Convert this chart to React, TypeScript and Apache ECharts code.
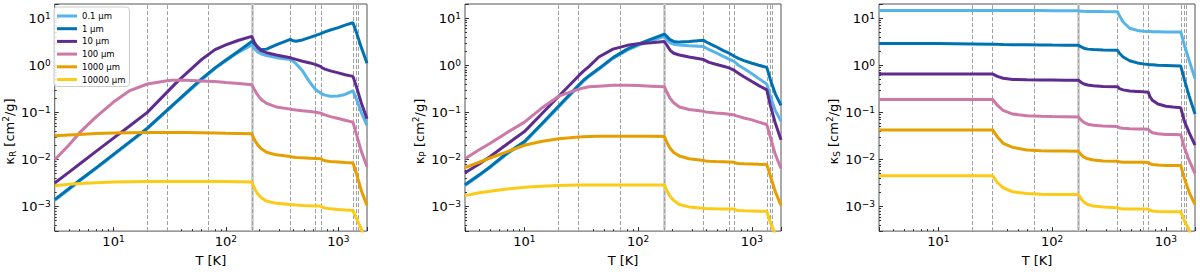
import React, { useEffect, useRef } from "react";
import * as echarts from "echarts";

// Temperature grid [K]
const T = [3, 4, 5, 7, 10, 14, 20, 30, 33, 37, 45, 60, 80, 100, 130, 170, 180, 190, 205, 230, 280, 375, 390, 420, 480, 560, 630, 700, 720, 760, 850, 1000, 1150, 1350, 1450, 1600, 1800];

const sizes = ["0.1 μm", "1 μm", "10 μm", "100 μm", "1000 μm", "10000 μm"];
const colors = ["#56B4E9", "#0072B2", "#5E2C8F", "#CC79A7", "#E69F00", "#FCCB18"];

// Rosseland mean opacities
const kR_01 = [1.36e-3, 2.3e-3, 3.5e-3, 6.4e-3, 0.0124, 0.023, 0.045, 0.108, 0.133, 0.17, 0.26, 0.48, 0.85, 1.24, 1.9, 2.7, 2.25, 1.95, 1.75, 1.6, 1.45, 1.33, 1.25, 1.08, 0.76, 0.43, 0.3, 0.255, 0.245, 0.232, 0.22, 0.222, 0.24, 0.285, 0.19, 0.1, 0.053];
const kR_1 = [1.4e-3, 2.38e-3, 3.6e-3, 6.6e-3, 0.0128, 0.0238, 0.046, 0.111, 0.137, 0.176, 0.27, 0.5, 0.88, 1.29, 2.0, 3.2, 2.85, 2.5, 2.15, 2.2, 2.7, 3.55, 3.35, 3.25, 3.45, 3.9, 4.3, 4.7, 4.85, 5.1, 5.6, 6.3, 7.1, 8.0, 4.95, 2.4, 1.1];
const kR_10 = [3.15e-3, 5.3e-3, 8.0e-3, 0.0148, 0.0283, 0.052, 0.1, 0.269, 0.339, 0.448, 0.69, 1.29, 2.15, 2.7, 3.4, 4.1, 3.0, 2.4, 2.05, 1.85, 1.65, 1.44, 1.4, 1.33, 1.22, 1.12, 1.03, 0.93, 0.88, 0.83, 0.76, 0.69, 0.63, 0.58, 0.35, 0.16, 0.073];
const kR_100 = [9.8e-3, 0.02, 0.037, 0.08, 0.165, 0.29, 0.4, 0.47, 0.48, 0.482, 0.478, 0.465, 0.45, 0.43, 0.41, 0.385, 0.3, 0.24, 0.19, 0.155, 0.13, 0.117, 0.115, 0.112, 0.108, 0.104, 0.1, 0.096, 0.092, 0.088, 0.081, 0.074, 0.068, 0.062, 0.034, 0.015, 7e-3];
const kR_1000 = [0.0317, 0.033, 0.034, 0.0355, 0.0365, 0.037, 0.0372, 0.0372, 0.0372, 0.0372, 0.0371, 0.037, 0.0365, 0.036, 0.0355, 0.035, 0.026, 0.021, 0.017, 0.0142, 0.0125, 0.0115, 0.0113, 0.011, 0.0108, 0.0106, 0.0105, 0.0103, 0.0098, 0.0094, 0.009, 0.0088, 0.0086, 0.0084, 0.005, 0.0022, 1.05e-3];
const kR_10000 = [2.75e-3, 2.95e-3, 3.08e-3, 3.2e-3, 3.3e-3, 3.35e-3, 3.4e-3, 3.4e-3, 3.4e-3, 3.4e-3, 3.4e-3, 3.4e-3, 3.4e-3, 3.4e-3, 3.35e-3, 3.3e-3, 2.4e-3, 1.9e-3, 1.55e-3, 1.3e-3, 1.17e-3, 1.1e-3, 1.09e-3, 1.07e-3, 1.05e-3, 1.04e-3, 1.03e-3, 1.02e-3, 9.7e-4, 9.3e-4, 8.9e-4, 8.6e-4, 8.4e-4, 8.2e-4, 5.5e-4, 3.4e-4, 1.2e-4];

// Planck mean opacities
const kP_01 = [2.8e-3, 4.55e-3, 6.8e-3, 0.013, 0.023, 0.053, 0.13, 0.365, 0.46, 0.58, 0.82, 1.4, 2.1, 2.65, 3.3, 4.1, 3.4, 3.0, 2.8, 2.7, 2.6, 2.5, 2.35, 2.15, 1.85, 1.55, 1.35, 1.2, 1.12, 1.0, 0.85, 0.66, 0.52, 0.4, 0.22, 0.11, 0.065];
const kP_1 = [2.9e-3, 4.7e-3, 7.0e-3, 0.0135, 0.024, 0.055, 0.136, 0.38, 0.48, 0.6, 0.85, 1.45, 2.2, 2.8, 3.6, 4.6, 4.0, 3.5, 3.2, 3.1, 3.2, 3.4, 3.2, 2.9, 2.5, 2.05, 1.8, 1.55, 1.5, 1.4, 1.25, 1.1, 1.0, 0.9, 0.5, 0.25, 0.14];
const kP_10 = [5.2e-3, 8.0e-3, 0.0115, 0.021, 0.039, 0.09, 0.22, 0.6, 0.75, 0.95, 1.5, 2.2, 2.65, 2.85, 3.0, 3.2, 2.6, 2.1, 1.8, 1.65, 1.5, 1.33, 1.25, 1.15, 1.05, 0.95, 0.88, 0.78, 0.74, 0.68, 0.57, 0.45, 0.37, 0.3, 0.14, 0.06, 0.026];
const kP_100 = [0.0103, 0.016, 0.022, 0.037, 0.062, 0.12, 0.22, 0.31, 0.33, 0.35, 0.36, 0.375, 0.375, 0.37, 0.36, 0.35, 0.26, 0.2, 0.16, 0.13, 0.115, 0.105, 0.102, 0.1, 0.097, 0.094, 0.091, 0.088, 0.085, 0.082, 0.076, 0.069, 0.062, 0.055, 0.03, 0.013, 6.4e-3];
const kP_1000 = [6.7e-3, 8.7e-3, 0.0107, 0.0145, 0.02, 0.024, 0.0275, 0.03, 0.0303, 0.0306, 0.031, 0.031, 0.031, 0.031, 0.031, 0.0305, 0.022, 0.0175, 0.014, 0.0118, 0.0103, 0.0095, 0.0093, 0.0091, 0.009, 0.0089, 0.0088, 0.0087, 0.0084, 0.0082, 0.0081, 0.008, 0.0079, 0.0078, 0.0045, 0.0021, 1.05e-3];
const kP_10000 = [1.7e-3, 1.95e-3, 2.1e-3, 2.35e-3, 2.55e-3, 2.7e-3, 2.8e-3, 2.85e-3, 2.85e-3, 2.85e-3, 2.85e-3, 2.85e-3, 2.85e-3, 2.85e-3, 2.85e-3, 2.85e-3, 2.1e-3, 1.65e-3, 1.35e-3, 1.1e-3, 9.8e-4, 9.2e-4, 9.1e-4, 9.0e-4, 8.9e-4, 8.85e-4, 8.8e-4, 8.8e-4, 8.4e-4, 8.2e-4, 8.1e-4, 8.0e-4, 7.9e-4, 7.9e-4, 4.6e-4, 2.6e-4, 1e-4];

// Scattering opacities
const kS_01 = [14.6, 14.6, 14.6, 14.6, 14.6, 14.6, 14.6, 14.6, 14.5, 14.5, 14.5, 14.5, 14.5, 14.4, 14.4, 14.3, 14.1, 14.0, 13.9, 13.9, 13.8, 13.7, 11.2, 8.3, 6.1, 5.5, 5.3, 5.2, 5.2, 5.15, 5.15, 5.1, 5.1, 5.1, 2.7, 1.26, 0.52];
const kS_1 = [2.9, 2.9, 2.9, 2.9, 2.88, 2.86, 2.84, 2.8, 2.78, 2.76, 2.74, 2.72, 2.7, 2.68, 2.66, 2.65, 2.45, 2.3, 2.2, 2.15, 2.12, 2.08, 1.8, 1.5, 1.25, 1.12, 1.07, 1.04, 1.03, 1.02, 1.0, 0.99, 0.98, 0.96, 0.5, 0.22, 0.092];
const kS_10 = [0.65, 0.65, 0.65, 0.65, 0.65, 0.65, 0.65, 0.65, 0.58, 0.53, 0.5, 0.49, 0.485, 0.485, 0.483, 0.48, 0.43, 0.4, 0.38, 0.365, 0.355, 0.35, 0.32, 0.3, 0.285, 0.278, 0.272, 0.268, 0.22, 0.18, 0.15, 0.135, 0.13, 0.125, 0.065, 0.037, 0.02];
const kS_100 = [0.187, 0.187, 0.187, 0.187, 0.187, 0.187, 0.187, 0.187, 0.14, 0.11, 0.092, 0.085, 0.083, 0.082, 0.081, 0.08, 0.068, 0.061, 0.056, 0.053, 0.051, 0.05, 0.047, 0.046, 0.045, 0.0445, 0.044, 0.0435, 0.04, 0.037, 0.035, 0.034, 0.0338, 0.0335, 0.018, 0.0095, 5e-3];
const kS_1000 = [0.042, 0.042, 0.042, 0.042, 0.042, 0.042, 0.042, 0.042, 0.03, 0.022, 0.018, 0.0158, 0.0153, 0.015, 0.015, 0.0149, 0.0125, 0.0112, 0.0103, 0.0097, 0.0093, 0.0091, 0.0089, 0.0087, 0.0087, 0.0087, 0.0087, 0.0086, 0.0081, 0.0078, 0.0076, 0.0074, 0.0074, 0.0074, 0.004, 0.002, 1.1e-3];
const kS_10000 = [4.5e-3, 4.5e-3, 4.5e-3, 4.5e-3, 4.5e-3, 4.5e-3, 4.5e-3, 4.5e-3, 3.2e-3, 2.5e-3, 2.05e-3, 1.88e-3, 1.82e-3, 1.8e-3, 1.8e-3, 1.8e-3, 1.45e-3, 1.25e-3, 1.1e-3, 1.02e-3, 9.7e-4, 9.4e-4, 9.1e-4, 8.8e-4, 8.8e-4, 8.8e-4, 8.8e-4, 8.8e-4, 8.3e-4, 8.0e-4, 7.8e-4, 7.7e-4, 7.7e-4, 7.7e-4, 5e-4, 3.2e-4, 1e-4];

// Transition temperatures (vertical markers)
const transitionT = [20, 30, 70, 375, 630, 700, 1350, 1450, 1500];
const bandT = 170;

const panels = [
  { sub: "R", series: [kR_01, kR_1, kR_10, kR_100, kR_1000, kR_10000] },
  { sub: "P", series: [kP_01, kP_1, kP_10, kP_100, kP_1000, kP_10000] },
  { sub: "S", series: [kS_01, kS_1, kS_10, kS_100, kS_1000, kS_10000] },
];

const xRange = [3, 1800];
const yRange = [3e-4, 20];

const FONT = "DejaVu Sans";

const gridLefts = [51, 465, 879];

function powLabel(v: number) {
  const e = Math.round(Math.log10(v));
  const es = e < 0 ? "\u2212" + Math.abs(e) : String(e);
  return `{b|10}{s|${es}}`;
}

const tickRich = {
  b: { fontSize: 13, fontFamily: FONT, color: "#000", lineHeight: 14, verticalAlign: "bottom" },
  s: { fontSize: 9, fontFamily: FONT, color: "#000", lineHeight: 10, padding: [0, 0, 6, 0], verticalAlign: "top" },
};

export default function App() {
  const ref = useRef<HTMLDivElement>(null);
  useEffect(() => {
    if (!ref.current) return;
    const chart = echarts.init(ref.current, undefined, { renderer: "svg" });

    const grid = gridLefts.map((l) => ({
      left: l,
      top: 4,
      width: 316,
      height: 236,
      show: true,
      borderColor: "#555",
      borderWidth: 1,
      backgroundColor: "transparent",
    }));

    const xAxis = panels.map((_, i) => ({
      type: "log",
      gridIndex: i,
      min: xRange[0],
      max: xRange[1],
      name: "T [K]",
      nameLocation: "middle",
      nameGap: 16,
      nameTextStyle: { fontSize: 13, fontFamily: FONT, color: "#000" },
      axisLine: { show: false },
      axisTick: { show: true, inside: true, length: 4, lineStyle: { color: "#333" } },
      minorTick: { show: true, splitNumber: 9, length: 2, lineStyle: { color: "#333" } },
      splitLine: { show: false },
      axisLabel: {
        showMinLabel: false,
        showMaxLabel: false,
        margin: 3,
        formatter: powLabel,
        rich: tickRich,
      },
    }));

    const yAxis = panels.map((p, i) => ({
      type: "log",
      gridIndex: i,
      min: yRange[0],
      max: yRange[1],
      name: `{k|κ}{sub|${p.sub}}{k| [cm}{sup|2}{k|/g]}`,
      nameLocation: "middle",
      nameRotate: 90,
      nameGap: 36,
      nameTextStyle: {
        padding: [0, 28, 0, 0],
        rich: {
          k: { fontSize: 13, fontFamily: FONT, color: "#000", lineHeight: 16, verticalAlign: "middle" },
          sub: { fontSize: 9, fontFamily: FONT, color: "#000", lineHeight: 9, padding: [7, 0, 0, 0], verticalAlign: "top" },
          sup: { fontSize: 9, fontFamily: FONT, color: "#000", lineHeight: 9, padding: [0, 0, 7, 0], verticalAlign: "top" },
        },
      },
      axisLine: { show: false },
      axisTick: { show: true, inside: true, length: 4, lineStyle: { color: "#333" } },
      minorTick: { show: true, splitNumber: 9, length: 2, lineStyle: { color: "#333" } },
      splitLine: { show: false },
      axisLabel: {
        showMinLabel: false,
        showMaxLabel: false,
        margin: 4,
        formatter: powLabel,
        rich: tickRich,
      },
    }));

    const series: any[] = [];
    panels.forEach((p, i) => {
      series.push({
        type: "line",
        name: "_markers" + i,
        xAxisIndex: i,
        yAxisIndex: i,
        data: [[xRange[0], 1]],
        symbol: "none",
        lineStyle: { opacity: 0 },
        silent: true,
        z: 1,
        markLine: {
          silent: true,
          z: 1,
          symbol: "none",
          label: { show: false },
          animation: false,
          data: [
            { xAxis: bandT, lineStyle: { type: "solid", color: "#d4d4d4", width: 3 } },
            { xAxis: bandT, lineStyle: { type: [4, 2], color: "#a0a0a0", width: 1 } },
            ...transitionT.map((t) => ({ xAxis: t, lineStyle: { type: [4, 2], color: "#a0a0a0", width: 1 } })),
          ],
        },
      });
      p.series.forEach((vals, j) => {
        series.push({
          type: "line",
          name: sizes[j],
          xAxisIndex: i,
          yAxisIndex: i,
          data: T.map((t, k) => [t, vals[k]]),
          symbol: "none",
          showSymbol: false,
          clip: true,
          lineStyle: { width: 3, color: colors[j] },
          itemStyle: { color: colors[j] },
          z: 3,
        });
      });
    });

    chart.setOption({
      animation: false,
      textStyle: { fontFamily: FONT },
      grid,
      xAxis,
      yAxis,
      legend: {
        data: sizes,
        orient: "vertical",
        left: 54,
        top: 7,
        icon: "rect",
        itemWidth: 20,
        itemHeight: 3,
        itemGap: 2.7,
        padding: [4, 4, 2, 3],
        backgroundColor: "rgba(255,255,255,0.85)",
        borderColor: "#cccccc",
        borderWidth: 1,
        borderRadius: 3,
        textStyle: { fontSize: 8.5, fontFamily: FONT, color: "#000", lineHeight: 10 },
        selectedMode: false,
        z: 10,
      },
      series,
    });
    return () => chart.dispose();
  }, []);
  return (
    <div
      ref={ref}
      style={{ position: "fixed", left: 0, top: 0, width: 1200, height: 272, background: "#fff" }}
    />
  );
}
